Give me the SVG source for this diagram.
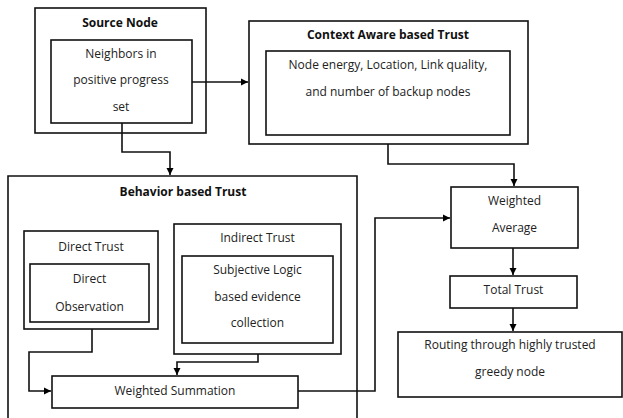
<svg xmlns="http://www.w3.org/2000/svg" width="623" height="418" viewBox="0 0 623 418">
<defs>
<marker id="ah" markerWidth="8" markerHeight="8" refX="7" refY="4" orient="auto" markerUnits="userSpaceOnUse">
<path d="M0,0.5 L7,4 L0,7.5 Z" fill="#000"/>
</marker>
<style>
.box{fill:#fff;stroke:#111;stroke-width:1.6}
.t{font-family:"Open Sans","Liberation Sans",sans-serif;font-size:12px;fill:#222;text-anchor:middle}
.b{font-family:"Open Sans","Liberation Sans",sans-serif;font-size:12px;font-weight:bold;fill:#111;text-anchor:middle}
.c{fill:none;stroke:#111;stroke-width:1.6}
</style>
</defs>
<rect width="623" height="418" fill="#fff"/>
<g id="behavior">
<path class="box" d="M8,420 V176 H357 V420"/>
<text class="b" x="183" y="196">Behavior based Trust</text>
</g>
<g id="source">
<rect class="box" x="35" y="8" width="171" height="125"/>
<text class="b" x="120" y="27">Source Node</text>
<rect class="box" x="51" y="40" width="141" height="83"/>
<text class="t" x="121" y="58">Neighbors in</text>
<text class="t" x="121" y="84">positive progress</text>
<text class="t" x="121" y="111">set</text>
</g>
<g id="context">
<rect class="box" x="249" y="21" width="279" height="123"/>
<text class="b" x="388" y="39">Context Aware based Trust</text>
<rect class="box" x="266" y="51" width="244" height="84"/>
<text class="t" x="388" y="69">Node energy, Location, Link quality,</text>
<text class="t" x="388" y="96">and number of backup nodes</text>
</g>
<g id="direct">
<rect class="box" x="24" y="231" width="134" height="98"/>
<text class="t" x="91" y="251">Direct Trust</text>
<rect class="box" x="30" y="264" width="119" height="58"/>
<text class="t" x="89.5" y="283">Direct</text>
<text class="t" x="89.5" y="311">Observation</text>
</g>
<g id="indirect">
<rect class="box" x="174" y="224" width="167" height="130"/>
<text class="t" x="257.5" y="242">Indirect Trust</text>
<rect class="box" x="182" y="256" width="151" height="87"/>
<text class="t" x="257.5" y="274">Subjective Logic</text>
<text class="t" x="257.5" y="301">based evidence</text>
<text class="t" x="257.5" y="327">collection</text>
</g>
<g id="summation">
<rect class="box" x="52" y="376" width="246" height="32"/>
<text class="t" x="175" y="395">Weighted Summation</text>
</g>
<g id="average">
<rect class="box" x="451" y="187" width="127" height="61"/>
<text class="t" x="514.5" y="205">Weighted</text>
<text class="t" x="514.5" y="232">Average</text>
</g>
<g id="total">
<rect class="box" x="450" y="276" width="127" height="32"/>
<text class="t" x="513.5" y="294">Total Trust</text>
</g>
<g id="routing">
<rect class="box" x="398" y="332" width="224" height="65"/>
<text class="t" x="510" y="349">Routing through highly trusted</text>
<text class="t" x="510" y="376">greedy node</text>
</g>
<g id="connectors">
<path class="c" d="M192,82 H248" marker-end="url(#ah)"/>
<path class="c" d="M122,123 V152 H170 V175" marker-end="url(#ah)"/>
<path class="c" d="M388,144 V164 H514 V186" marker-end="url(#ah)"/>
<path class="c" d="M92,329 V352 H29 V391 H51" marker-end="url(#ah)"/>
<path class="c" d="M258,354 V362 H177 V375" marker-end="url(#ah)"/>
<path class="c" d="M298,391 H375 V218 H450" marker-end="url(#ah)"/>
<path class="c" d="M513,248 V275" marker-end="url(#ah)"/>
<path class="c" d="M513,308 V331" marker-end="url(#ah)"/>
</g>
</svg>
